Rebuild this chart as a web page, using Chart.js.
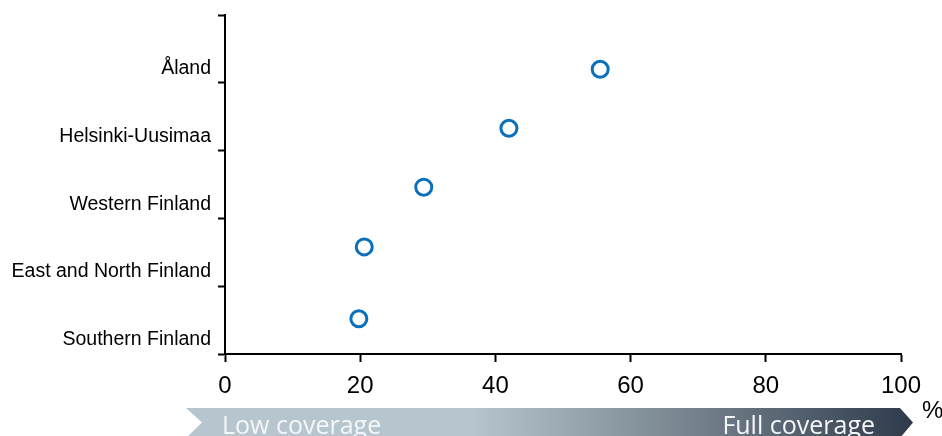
<!DOCTYPE html>
<html>
<head>
<meta charset="utf-8">
<script src="https://cdn.jsdelivr.net/npm/chart.js@4.4.1/dist/chart.umd.min.js"></script>
<style>
  html, body { margin: 0; padding: 0; background: #fff; }
  #wrap { width: 942px; height: 436px; position: relative; }
</style>
</head>
<body>
<div id="wrap"><canvas id="c"></canvas></div>
<script>
// Regions, top to bottom as shown
const regions = ["Åland", "Helsinki-Uusimaa", "Western Finland", "East and North Finland", "Southern Finland"];
// Coverage (%)
const coverage = [55.5, 42.0, 29.4, 20.6, 19.8];
// Vertical position of each marker on the 0–5 row axis
const rowPos = [4.20, 3.33, 2.46, 1.58, 0.52];
// Row label positions on the same axis
const labelPos = [4.21, 3.21, 2.21, 1.21, 0.21];
// x tick labels
const xTicks = [0, 20, 40, 60, 80, 100];
const bannerLeft = "Low coverage";
const bannerRight = "Full coverage";
const unitLabel = "%";

const points = coverage.map((v, i) => ({ x: v, y: rowPos[i] }));
const yTickValues = [0, 1, 2, 3, 4, 5].concat(labelPos).sort((a, b) => a - b);

const bannerPlugin = {
  id: 'banner',
  afterDraw(chart) {
    const ctx = chart.ctx;
    const a = chart.chartArea;
    const left = a.left - 39, notch = a.left - 23, flatEnd = a.right - 1, apex = a.right + 12;
    const top = 408, bottom = 438, mid = (top + bottom) / 2 - 0.5;
    ctx.save();
    const g = ctx.createLinearGradient(left, 0, apex, 0);
    g.addColorStop(0, '#b7c6ce');
    g.addColorStop(0.39, '#b7c6ce');
    g.addColorStop(0.73, '#6e7b86');
    g.addColorStop(1, '#2e3a4b');
    ctx.fillStyle = g;
    ctx.beginPath();
    ctx.moveTo(left, top);
    ctx.lineTo(flatEnd, top);
    ctx.lineTo(apex, mid);
    ctx.lineTo(flatEnd, bottom);
    ctx.lineTo(left, bottom);
    ctx.lineTo(notch, mid);
    ctx.closePath();
    ctx.fill();
    ctx.fillStyle = '#f4f7f9';
    ctx.font = '25px "Open Sans"';
    ctx.textBaseline = 'alphabetic';
    ctx.textAlign = 'left';
    ctx.fillText(bannerLeft, a.left - 3, 434);
    ctx.textAlign = 'right';
    ctx.fillText(bannerRight, a.right - 26, 434);
    ctx.fillStyle = '#000';
    ctx.textAlign = 'left';
    ctx.font = '24px "Liberation Sans", Arial, sans-serif';
    ctx.fillText(unitLabel, a.right + 21, 418);
    ctx.restore();
  }
};

new Chart(document.getElementById('c'), {
  type: 'scatter',
  data: {
    datasets: [{
      data: points,
      pointRadius: 8,
      pointHoverRadius: 8,
      pointBorderWidth: 3,
      borderColor: '#0a70bd',
      backgroundColor: '#ffffff',
      showLine: false
    }]
  },
  plugins: [bannerPlugin],
  options: {
    responsive: true,
    maintainAspectRatio: false,
    animation: false,
    events: [],
    layout: { padding: { top: 15, right: 41, left: 0, bottom: 0 } },
    plugins: { legend: { display: false }, tooltip: { enabled: false } },
    scales: {
      x: {
        type: 'linear',
        min: 0, max: 100,
        afterBuildTicks: s => { s.ticks = xTicks.map(v => ({ value: v })); },
        afterFit: s => { s.height = 82; },
        border: { display: true, color: '#000', width: 2 },
        grid: { drawOnChartArea: false, drawTicks: true, tickLength: 8, tickWidth: 2, tickColor: '#000' },
        ticks: {
          color: '#000',
          padding: 10,
          maxRotation: 0,
          font: { family: '"Liberation Sans", Arial, sans-serif', size: 24 }
        }
      },
      y: {
        type: 'linear',
        min: 0, max: 5,
        afterBuildTicks: s => { s.ticks = yTickValues.map(v => ({ value: v })); },
        afterFit: s => { s.width = 225; s.paddingTop = 0; s.paddingBottom = 0; },
        border: { display: true, color: '#000', width: 2 },
        grid: {
          drawOnChartArea: false, drawTicks: true, tickLength: 7, tickWidth: 2,
          tickColor: c => (c.tick && Number.isInteger(c.tick.value)) ? '#000' : 'rgba(0,0,0,0)'
        },
        ticks: {
          color: '#000',
          padding: 7,
          autoSkip: false,
          font: { family: '"Liberation Sans", Arial, sans-serif', size: 19.5 },
          callback: v => {
            const i = labelPos.findIndex(p => Math.abs(p - v) < 1e-6);
            return i >= 0 ? regions[i] : '';
          }
        }
      }
    }
  }
});
</script>
</body>
</html>
